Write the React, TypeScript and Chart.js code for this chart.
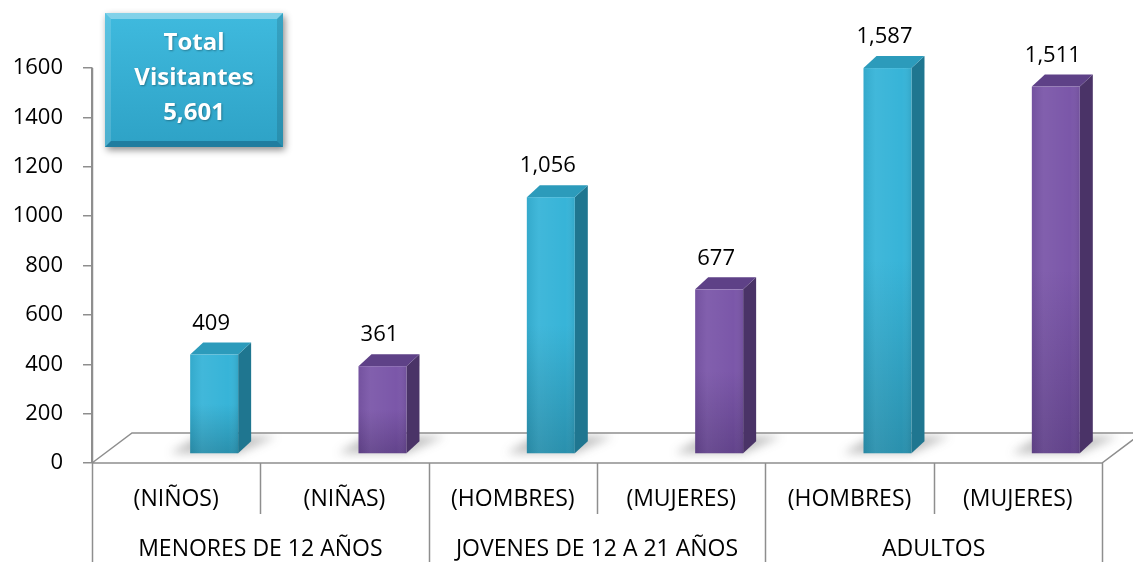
import React, { useEffect, useRef } from 'react';
import { Chart, registerables } from 'chart.js';

Chart.register(...registerables);

// ---------- data ----------
const subCategories = ['(NIÑOS)', '(NIÑAS)', '(HOMBRES)', '(MUJERES)', '(HOMBRES)', '(MUJERES)'];
const groupLabels = ['MENORES DE 12 AÑOS', 'JOVENES DE 12 A 21 AÑOS', 'ADULTOS'];
const groupSpans = [2, 2, 2];
const visitors = [409, 361, 1056, 677, 1587, 1511];
const barKinds = ['m', 'f', 'm', 'f', 'm', 'f'];
const yMax = 1600;
const yStep = 200;
const boxTitleLines = ['Total', 'Visitantes'];

// ---------- styles ----------
const FONT = '"Open Sans", "DejaVu Sans", sans-serif';
const AXIS_GRAY = '#8e8e8e';
const palette: Record<string, { front: [string, string]; side: string; top: string }> = {
  m: { front: ['#37b4d8', '#2a90ad'], side: '#1f7690', top: '#2c9bbb' },
  f: { front: ['#7b57a9', '#62438b'], side: '#4a3367', top: '#5e4187' },
};
const FLOOR_DX = 40;
const FLOOR_DY = 30;
const BAR_DX = 13;
const BAR_DY = 12;

const fmt = (v: number) => v.toLocaleString('en-US');

function categoryBounds(chart: any): number[] {
  const xs = chart.scales.x;
  const n = subCategories.length;
  const p = (i: number) => xs.getPixelForValue(i);
  const half = (p(1) - p(0)) / 2;
  const out: number[] = [p(0) - half];
  for (let i = 1; i < n; i++) out.push((p(i - 1) + p(i)) / 2);
  out.push(p(n - 1) + half);
  return out;
}

function barGeom(chart: any, i: number) {
  const el: any = chart.getDatasetMeta(0).data[i];
  const { x, y, base, width } = el.getProps(['x', 'y', 'base', 'width'], true);
  const baseY = base - 9;
  const topY = baseY - (base - y) * 0.985;
  const frontL = x + 14;
  const frontR = frontL + width;
  return { baseY, topY, frontL, frontR, width };
}

const decorPlugin = {
  id: 'decor3d',
  beforeDatasetsDraw(chart: any) {
    const { ctx, chartArea } = chart;
    const y0 = chart.scales.y.getPixelForValue(0);
    const L = chartArea.left;
    const R = chartArea.right;
    // floor
    ctx.save();
    ctx.beginPath();
    ctx.moveTo(L, y0);
    ctx.lineTo(L + FLOOR_DX, y0 - FLOOR_DY);
    ctx.lineTo(R + FLOOR_DX, y0 - FLOOR_DY);
    ctx.lineTo(R, y0);
    ctx.closePath();
    ctx.fillStyle = '#ffffff';
    ctx.fill();
    ctx.save();
    ctx.clip();
    // shadows
    for (let i = 0; i < visitors.length; i++) {
      const g = barGeom(chart, i);
      ctx.save();
      ctx.filter = 'blur(5px)';
      ctx.fillStyle = 'rgba(60,60,60,0.32)';
      ctx.beginPath();
      ctx.moveTo(g.frontL - 20, g.baseY);
      ctx.lineTo(g.frontR, g.baseY);
      ctx.lineTo(g.frontR + BAR_DX + 25, g.baseY - 17);
      ctx.lineTo(g.frontL + 8, g.baseY - 17);
      ctx.closePath();
      ctx.fill();
      ctx.restore();
    }
    ctx.restore();
    ctx.strokeStyle = AXIS_GRAY;
    ctx.lineWidth = 1.5;
    ctx.beginPath();
    ctx.moveTo(L, y0);
    ctx.lineTo(L + FLOOR_DX, y0 - FLOOR_DY);
    ctx.lineTo(R + FLOOR_DX, y0 - FLOOR_DY);
    ctx.moveTo(L, y0);
    ctx.lineTo(R, y0);
    ctx.lineTo(R + FLOOR_DX, y0 - FLOOR_DY);
    ctx.stroke();
    ctx.restore();
  },
  afterDatasetsDraw(chart: any) {
    const { ctx } = chart;
    for (let i = 0; i < visitors.length; i++) {
      const g = barGeom(chart, i);
      const c = palette[barKinds[i]];
      ctx.save();
      ctx.lineJoin = 'round';
      // side face
      ctx.beginPath();
      ctx.moveTo(g.frontR, g.topY);
      ctx.lineTo(g.frontR + BAR_DX, g.topY - BAR_DY);
      ctx.lineTo(g.frontR + BAR_DX, g.baseY - BAR_DY);
      ctx.lineTo(g.frontR, g.baseY);
      ctx.closePath();
      ctx.fillStyle = c.side;
      ctx.fill();
      // top face
      ctx.beginPath();
      ctx.moveTo(g.frontL, g.topY);
      ctx.lineTo(g.frontL + BAR_DX, g.topY - BAR_DY);
      ctx.lineTo(g.frontR + BAR_DX, g.topY - BAR_DY);
      ctx.lineTo(g.frontR, g.topY);
      ctx.closePath();
      ctx.fillStyle = c.top;
      ctx.fill();
      // front face
      const grad = ctx.createLinearGradient(0, g.topY, 0, g.baseY);
      grad.addColorStop(0, c.front[0]);
      grad.addColorStop(0.5, c.front[0]);
      grad.addColorStop(1, c.front[1]);
      ctx.fillStyle = grad;
      ctx.fillRect(g.frontL, g.topY, g.width, g.baseY - g.topY);
      const hg = ctx.createLinearGradient(g.frontL, 0, g.frontR, 0);
      hg.addColorStop(0, 'rgba(0,0,0,0.06)');
      hg.addColorStop(0.25, 'rgba(255,255,255,0.05)');
      hg.addColorStop(0.8, 'rgba(255,255,255,0)');
      hg.addColorStop(1, 'rgba(0,0,0,0.08)');
      ctx.fillStyle = hg;
      ctx.fillRect(g.frontL, g.topY, g.width, g.baseY - g.topY);
      // value label
      ctx.fillStyle = '#000';
      ctx.font = `22px ${FONT}`;
      ctx.textAlign = 'center';
      ctx.textBaseline = 'middle';
      ctx.fillText(fmt(visitors[i]), g.frontL + g.width / 2 - 3, g.topY - 31);
      ctx.restore();
    }
  },
  afterDraw(chart: any) {
    const { ctx, chartArea } = chart;
    const y0 = chart.scales.y.getPixelForValue(0);
    const H = chart.height;
    const b = categoryBounds(chart);
    ctx.save();
    ctx.strokeStyle = AXIS_GRAY;
    ctx.lineWidth = 1.5;
    const groupEdges = new Set<number>([0]);
    let acc = 0;
    groupSpans.forEach((s) => { acc += s; groupEdges.add(acc); });
    ctx.beginPath();
    for (let i = 0; i < b.length; i++) {
      const x = Math.round(b[i]) + 0.5;
      ctx.moveTo(x, i === 0 ? chartArea.top : y0);
      ctx.lineTo(x, groupEdges.has(i) ? H : y0 + 51);
    }
    ctx.stroke();
    ctx.fillStyle = '#000';
    ctx.font = `23px ${FONT}`;
    ctx.textAlign = 'center';
    ctx.textBaseline = 'middle';
    let start = 0;
    groupLabels.forEach((lab, gi) => {
      const end = start + groupSpans[gi];
      ctx.fillText(lab, (b[start] + b[end]) / 2, y0 + 86);
      start = end;
    });
    ctx.restore();

    // total box
    const bx = 105, by = 13, bw = 178, bh = 134, bv = 6;
    ctx.save();
    ctx.shadowColor = 'rgba(0,0,0,0.45)';
    ctx.shadowBlur = 7;
    ctx.shadowOffsetX = 2;
    ctx.shadowOffsetY = 3;
    const bg = ctx.createLinearGradient(0, by, 0, by + bh);
    bg.addColorStop(0, '#3fbade');
    bg.addColorStop(1, '#2ea2c6');
    ctx.fillStyle = bg;
    ctx.fillRect(bx, by, bw, bh);
    ctx.restore();
    ctx.save();
    const poly = (pts: number[][], fill: string) => {
      ctx.beginPath();
      ctx.moveTo(pts[0][0], pts[0][1]);
      for (let k = 1; k < pts.length; k++) ctx.lineTo(pts[k][0], pts[k][1]);
      ctx.closePath();
      ctx.fillStyle = fill;
      ctx.fill();
    };
    poly([[bx, by], [bx + bw, by], [bx + bw - bv, by + bv], [bx + bv, by + bv]], 'rgba(255,255,255,0.35)');
    poly([[bx, by], [bx + bv, by + bv], [bx + bv, by + bh - bv], [bx, by + bh]], 'rgba(255,255,255,0.15)');
    poly([[bx + bw, by], [bx + bw, by + bh], [bx + bw - bv, by + bh - bv], [bx + bw - bv, by + bv]], 'rgba(0,0,0,0.12)');
    poly([[bx, by + bh], [bx + bv, by + bh - bv], [bx + bw - bv, by + bh - bv], [bx + bw, by + bh]], 'rgba(0,40,70,0.3)');
    const total = visitors.reduce((a, v) => a + v, 0);
    const lines = [...boxTitleLines, fmt(total)];
    ctx.fillStyle = '#ffffff';
    ctx.font = `bold 24px ${FONT}`;
    ctx.textAlign = 'center';
    ctx.textBaseline = 'middle';
    ctx.shadowColor = 'rgba(0,0,0,0.3)';
    ctx.shadowBlur = 2;
    ctx.shadowOffsetX = 1;
    ctx.shadowOffsetY = 1;
    lines.forEach((t, k) => ctx.fillText(t, bx + bw / 2, by + 30 + k * 35));
    ctx.restore();
  },
};

export default function App() {
  const ref = useRef<HTMLCanvasElement | null>(null);
  useEffect(() => {
    if (!ref.current) return;
    const chart = new Chart(ref.current, {
      type: 'bar',
      data: {
        labels: subCategories,
        datasets: [
          {
            data: visitors,
            backgroundColor: 'rgba(0,0,0,0)',
            borderWidth: 0,
            barPercentage: 0.285,
            categoryPercentage: 1,
          },
        ],
      },
      options: {
        animation: false,
        responsive: false,
        layout: { padding: { top: 68, right: 31, left: 0, bottom: 0 } },
        plugins: { legend: { display: false }, tooltip: { enabled: false } },
        scales: {
          x: {
            grid: { display: false },
            border: { display: false },
            ticks: { color: '#000', font: { family: FONT, size: 23 }, padding: 15, maxRotation: 0, autoSkip: false },
            afterFit: (s: any) => { s.height = 99; },
          },
          y: {
            min: 0,
            max: yMax,
            ticks: {
              stepSize: yStep,
              color: '#000',
              font: { family: FONT, size: 22 },
              padding: 20,
              callback: (v: any) => String(v),
            },
            grid: { drawOnChartArea: false, drawTicks: true, tickLength: 9, color: AXIS_GRAY, lineWidth: 1.5 },
            border: { display: true, color: AXIS_GRAY, width: 1.5 },
            afterFit: (s: any) => { s.width = 92; },
          },
        },
      },
      plugins: [decorPlugin],
    });
    return () => chart.destroy();
  }, []);
  return (
    <div style={{ position: 'fixed', left: 0, top: 0, width: 1133, height: 562, background: '#fff' }}>
      <canvas ref={ref} width={1133} height={562} style={{ display: 'block' }} />
    </div>
  );
}
